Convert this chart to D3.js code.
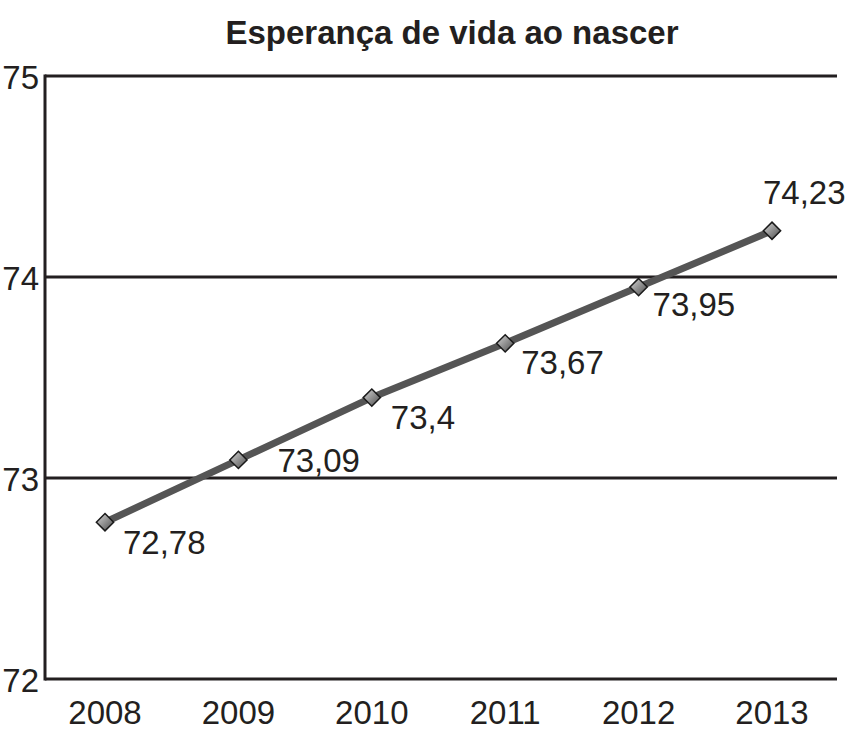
<!DOCTYPE html>
<html><head><meta charset="utf-8">
<script src="https://cdn.jsdelivr.net/npm/d3@7"></script>
<style>body{margin:0;background:#fff}svg{display:block}</style>
</head><body>
<script>
const title = "Esperança de vida ao nascer";
const years = ["2008","2009","2010","2011","2012","2013"];
const values = [72.78, 73.09, 73.4, 73.67, 73.95, 74.23];
const valueLabels = ["72,78","73,09","73,4","73,67","73,95","74,23"];
const yTicks = [72, 73, 74, 75];

const W = 856, H = 743;
const ink = "#231f20";
const font = "'Liberation Sans', Arial, sans-serif";
const fs = 33;
const svg = d3.select("body").append("svg").attr("width", W).attr("height", H);

const pLeft = 45, pRight = 837, pTop = 76, pBottom = 679;
const x = d3.scalePoint().domain(years).range([105, 772]);
const y = d3.scaleLinear().domain([72, 75]).range([pBottom, pTop]);

const defs = svg.append("defs");
const g = defs.append("linearGradient").attr("id","mk").attr("x1","0").attr("y1","0").attr("x2","1").attr("y2","1");
g.append("stop").attr("offset","0").attr("stop-color","#d8d8d8");
g.append("stop").attr("offset","1").attr("stop-color","#4a4a4a");

// title
svg.append("text").attr("x", 452).attr("y", 44).attr("text-anchor","middle")
  .attr("font-family", font).attr("font-weight","bold").attr("font-size", 33).attr("fill", ink).text(title);

// gridlines
svg.append("g").selectAll("line").data(yTicks).join("line")
  .attr("x1", pLeft).attr("x2", pRight).attr("y1", d => y(d)).attr("y2", d => y(d))
  .attr("stroke", ink).attr("stroke-width", 3);
// left axis line
svg.append("line").attr("x1", pLeft).attr("x2", pLeft).attr("y1", pTop - 1.5).attr("y2", pBottom + 1.5)
  .attr("stroke", ink).attr("stroke-width", 3);

// y tick labels
svg.append("g").selectAll("text").data(yTicks).join("text")
  .attr("x", 39).attr("y", d => y(d) + 13).attr("text-anchor","end")
  .attr("font-family", font).attr("font-size", fs).attr("fill", ink).text(d => d);

// x tick labels
svg.append("g").selectAll("text").data(years).join("text")
  .attr("x", d => x(d)).attr("y", 724).attr("text-anchor","middle")
  .attr("font-family", font).attr("font-size", fs).attr("fill", ink).text(d => d);

// line
const pts = years.map((yr, i) => [x(yr), y(values[i])]);
svg.append("path").attr("d", d3.line()(pts)).attr("fill","none")
  .attr("stroke", "#555").attr("stroke-width", 7).attr("stroke-linejoin","round");

// markers
const sym = d3.symbol().type(d3.symbolDiamond2).size(190);
svg.append("g").selectAll("path").data(pts).join("path")
  .attr("transform", d => `translate(${d[0]},${d[1]})`)
  .attr("d", sym).attr("fill","url(#mk)").attr("stroke","#1a1a1a").attr("stroke-width",1.5);

// value labels
const labelDx = [18, 39, 19, 16, 14, -9];
const labelDy = [32, 12, 31, 31, 29, -27];
svg.append("g").selectAll("text").data(pts).join("text")
  .attr("x", (d,i) => d[0] + labelDx[i]).attr("y", (d,i) => d[1] + labelDy[i])
  .attr("font-family", font).attr("font-size", fs).attr("fill", ink).text((d,i) => valueLabels[i]);
</script>
</body></html>
